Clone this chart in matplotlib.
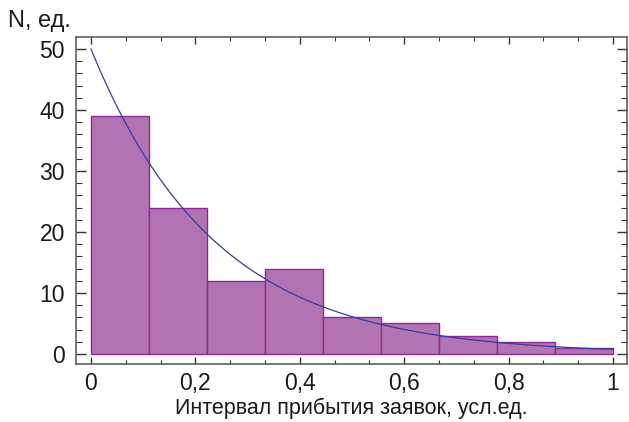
import numpy as np
import matplotlib.pyplot as plt
from matplotlib.ticker import MultipleLocator, FuncFormatter

plt.rcParams['font.family'] = ['Liberation Sans', 'DejaVu Sans']

# гистограмма интервалов прибытия заявок (9 интервалов на [0, 1])
bin_edges = np.linspace(0, 1, 10)
counts = [39, 24, 12, 14, 6, 5, 3, 2, 1]

# теоретическая кривая N = A*exp(-k*x)
A = 50.0
k = 4.2

x = np.linspace(0, 1, 200)
y = A * np.exp(-k * x)

fig = plt.figure(figsize=(6.29, 4.22), dpi=100)
ax = fig.add_axes([76 / 629, 1 - 364 / 422, 551 / 629, 327 / 422])

ax.bar(bin_edges[:-1], counts, width=np.diff(bin_edges), align='edge',
       color='#b173b1', edgecolor='#8a2c92', linewidth=1.0, zorder=2)
ax.plot(x, y, color='#3a3aa0', linewidth=0.9, zorder=3)

ax.set_xlim(-0.0287, 1.0268)
ax.set_ylim(-1.64, 51.97)

ax.xaxis.set_major_locator(MultipleLocator(0.2))
ax.xaxis.set_minor_locator(MultipleLocator(1 / 15))
ax.yaxis.set_major_locator(MultipleLocator(10))
ax.yaxis.set_minor_locator(MultipleLocator(2))


def comma_fmt(v, pos):
    s = f"{v:.1f}".rstrip('0').rstrip('.')
    if s == '-0':
        s = '0'
    return s.replace('.', ',')


ax.xaxis.set_major_formatter(FuncFormatter(comma_fmt))

for s in ax.spines.values():
    s.set_color('#555555')
    s.set_linewidth(1.1)

ax.tick_params(axis='both', which='both', direction='in', top=True, right=True,
               color='#333333', labelcolor='#1a1a1a')
ax.tick_params(axis='x', which='major', length=5, width=1, labelsize=16.5, pad=6)
ax.tick_params(axis='x', which='minor', length=3, width=0.8)
ax.tick_params(axis='y', which='major', length=7, width=1, labelsize=16.5, pad=8)
ax.tick_params(axis='y', which='minor', length=4.5, width=0.8)

ax.set_xlabel("Интервал прибытия заявок, усл.ед.", fontsize=15.5, color='#1a1a1a', labelpad=2)
fig.text(8 / 629, 1 - 27 / 422, "N, ед.", fontsize=17, color='#1a1a1a', ha='left', va='baseline')

fig.savefig('out.png', dpi=100, facecolor='white')
